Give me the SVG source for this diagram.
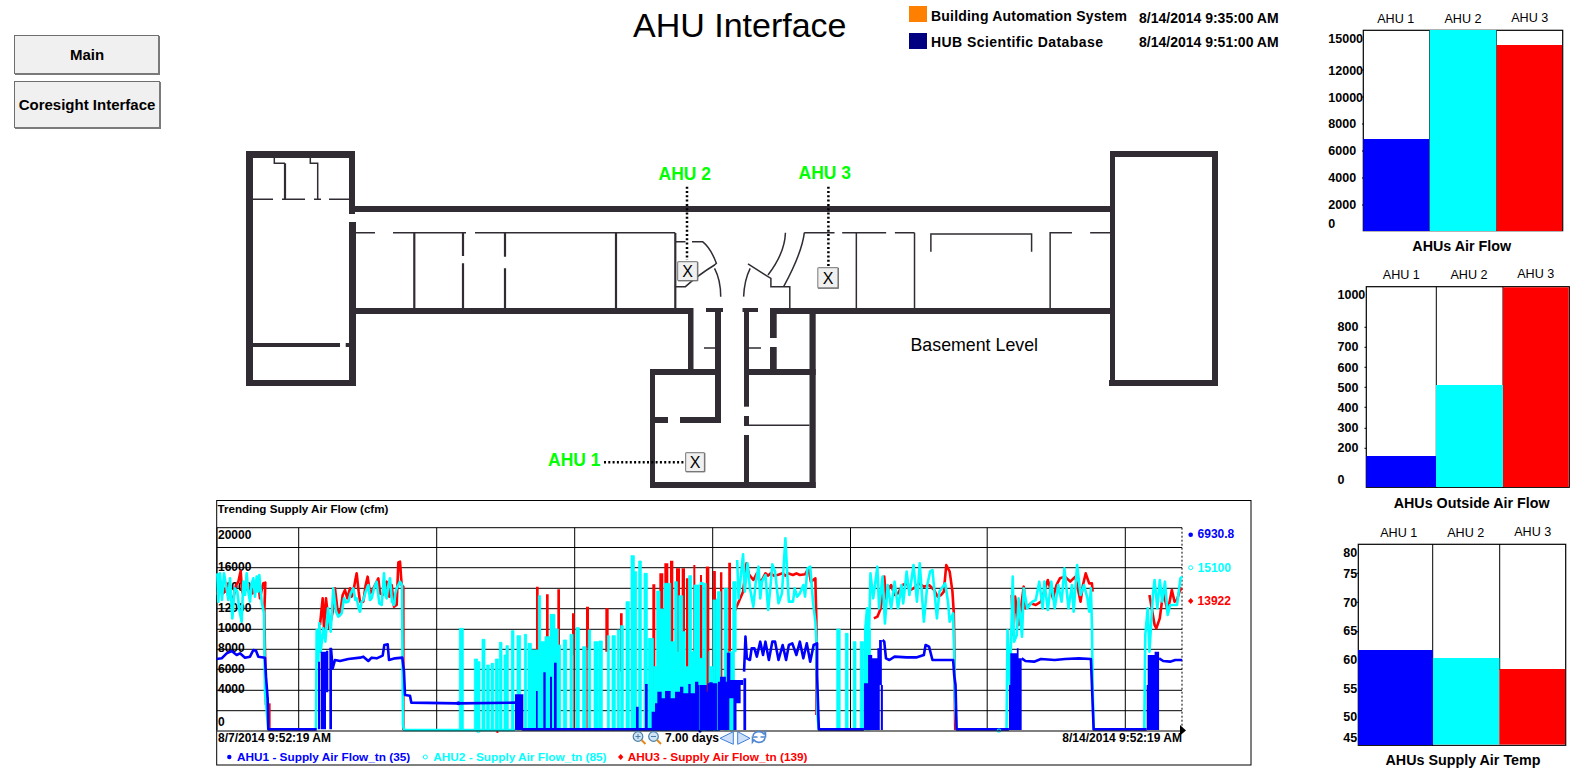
<svg xmlns="http://www.w3.org/2000/svg" width="1594" height="784" viewBox="0 0 1594 784">
<style>
text{font-family:"Liberation Sans",Arial,sans-serif;fill:#000}
.b{font-weight:bold}
.m{text-anchor:middle}
.e{text-anchor:end}
.w{fill:#312c33}
.t{fill:none;stroke:#312c33;stroke-width:1.5;vector-effect:non-scaling-stroke}
.t2{fill:none;stroke:#312c33;stroke-width:2.2;vector-effect:non-scaling-stroke}
.dot{fill:none;stroke:#000;stroke-width:2.500;stroke-dasharray:2 2.300}
.lab{font-size:17.500px;font-weight:bold;fill:#0f0}
.btn{fill:#f0f0f0;stroke:#6e6e6e;stroke-width:1}
.sh{fill:none;stroke:#7a7a7a;stroke-width:2}
.tr{fill:none;stroke-width:2.600;stroke-linejoin:round;vector-effect:non-scaling-stroke}
.gr{stroke:#000;stroke-width:1;fill:none}
.tk{font-size:12px;font-weight:bold}
.ba{font-size:12.600px}
.ax{font-size:12.500px;font-weight:bold}
.ti{font-size:14.300px;font-weight:bold;text-anchor:middle}
.fr{fill:#fff;stroke:#000;stroke-width:1.200}
.x{fill:#f0f0f0;stroke:#8c8c8c;stroke-width:1.200}
.xs{fill:none;stroke:#777;stroke-width:1.400}
.r{fill:#f00}.c{fill:#0ff;stroke:#0ff;stroke-width:.8;vector-effect:non-scaling-stroke}.bl{fill:#00f}
</style>
<rect width="1594" height="784" fill="#fff"/>

<g id="title"><text x="633" y="36.500" font-size="34">AHU Interface</text></g>
<g id="legend-bas">
<rect x="909" y="6" width="18" height="16" fill="#ff8000"/>
<text class="b" x="931" y="21" font-size="14" textLength="196">Building Automation System</text>
<text class="b" x="1139" y="22.500" font-size="14">8/14/2014 9:35:00 AM</text>
</g>
<g id="legend-hub">
<rect x="909" y="33" width="18" height="16" fill="#000080"/>
<text class="b" x="931" y="47" font-size="14" textLength="172">HUB Scientific Database</text>
<text class="b" x="1139" y="46.500" font-size="14">8/14/2014 9:51:00 AM</text>
</g>
<g id="btn-main">
<rect class="btn" x="14.500" y="35.500" width="144" height="38"/>
<path class="sh" d="M159 36V74H15"/>
<text class="b m" x="87" y="60" font-size="15">Main</text>
</g>
<g id="btn-coresight">
<rect class="btn" x="14.500" y="81.500" width="145" height="46"/>
<path class="sh" d="M160 82V128H15"/>
<text class="b m" x="87" y="110" font-size="15">Coresight Interface</text>
</g>

<g id="floorplan">
<g id="walls" class="w">
<rect x="246" y="151" width="7" height="235"/>
<rect x="246" y="151" width="109" height="7"/>
<rect x="349" y="151" width="6" height="63"/>
<rect x="349" y="222" width="7" height="164"/>
<rect x="246" y="380" width="110" height="6"/>
<rect x="253" y="343" width="87" height="4"/>
<rect x="345.700" y="343" width="4" height="4"/>
<rect x="355" y="206" width="755" height="6"/>
<rect x="355" y="308" width="338.500" height="6"/>
<rect x="706" y="308" width="17" height="4"/>
<rect x="742.500" y="308" width="15.500" height="4"/>
<rect x="770" y="308" width="340" height="6"/>
<rect x="688" y="314" width="5.500" height="56"/>
<rect x="715" y="308" width="6" height="115"/>
<rect x="744" y="308" width="5" height="98.700"/>
<rect x="744" y="416" width="5" height="10"/>
<rect x="744" y="435" width="5" height="47"/>
<rect x="770" y="314" width="6.700" height="24"/>
<rect x="770" y="347" width="6.700" height="23"/>
<rect x="809.500" y="314" width="6.200" height="174"/>
<rect x="650" y="369" width="71" height="6"/>
<rect x="744" y="369" width="71.700" height="6"/>
<rect x="650" y="369" width="5" height="119"/>
<rect x="650" y="482" width="165.700" height="6"/>
<rect x="655" y="417" width="13" height="6"/>
<rect x="680" y="417" width="41" height="6"/>
<rect x="1110" y="151" width="5" height="235"/>
<rect x="1110" y="151" width="108" height="6"/>
<rect x="1212" y="151" width="6" height="235"/>
<rect x="1109" y="380" width="109" height="6"/>
</g>
<path class="t" d="M253 199.300H273M282 199.300H305M314 199.300H321M329 199.300H349M355 232.700H375M393 232.700H466M475 232.700H675.300M704 348H715M749 348H761M749 425.300H809.500"/>
<path class="t" d="M274.300 158V163.300H285M310.300 158V163.300H317.700V199.300"/>
<path class="t2" d="M285 163.300V199.300"/>
<path class="t2" d="M414.300 233V308M463 233V256M463 263.300V308M505 233V256.700M505 268.300V308M616 233V308M675.300 233V308"/>
<g transform="translate(640 140) scale(.3636 .3333)">
<path class="t" d="M97 305H125M143 305H172Q195 325 210 370L205 375Q160 405 125 440H97M205 385Q222 420 222 470M297 372L352 410M303 385Q287 420 285 470M400 278Q398 340 352 405M452 278Q445 340 395 440H360V415L352 410M395 440H412V505M452 278H535M556 278H677M701 278H755M595 278V505M755 278V505M800 335V282H1077V335M1128 505V278H1188M1238 278H1295"/>
</g>
</g>

<g id="connectors">
<path class="dot" d="M687 186.700V260"/>
<path class="dot" d="M828.400 186.700V267"/>
<path class="dot" d="M604 462.300H685"/>
</g>
<g id="ahu1-marker">
<text class="lab" x="548" y="465.700">AHU 1</text>
<rect class="x" x="685.600" y="452.600" width="19" height="19" rx="1"/>
<path class="xs" d="M704.600 453V471.600H686"/>
<text class="m" x="695" y="468" font-size="16">X</text>
</g>
<g id="ahu2-marker">
<text class="lab" x="658.500" y="180">AHU 2</text>
<rect class="x" x="677.600" y="261.600" width="20" height="19" rx="1"/>
<path class="xs" d="M697.600 262V280.600H678"/>
<text class="m" x="687.500" y="277" font-size="16">X</text>
</g>
<g id="ahu3-marker">
<text class="lab" x="798.500" y="178.700">AHU 3</text>
<rect class="x" x="817.800" y="267.600" width="20.500" height="20.500" rx="1"/>
<path class="xs" d="M838.300 268V288.100H818"/>
<text class="m" x="828" y="284" font-size="16">X</text>
</g>
<g id="basement-label"><text x="910.500" y="350.700" font-size="17.800">Basement Level</text></g>

<g id="trend-chart">
<rect x="216.700" y="500.500" width="1034.300" height="264.500" fill="#fff" stroke="#000"/>
<text class="b" x="217.500" y="512.700" font-size="11.600">Trending Supply Air Flow (cfm)</text>
<path class="gr" d="M217 527.700H1182M217 547.500H1182M217 567.700H1182M217 588.300H1182M217 608.700H1182M217 629.300H1182M217 649.300H1182M217 669.300H1182M217 690.300H1182M217 710.700H1182M217 527.700V730.300M298.700 527.700V730.300M436.700 527.700V730.300M574.700 527.700V730.300M712.700 527.700V730.300M850.500 527.700V730.300M987.200 527.700V730.300M1125.300 527.700V730.300"/>
<path d="M1182 527.700V730.300" stroke="#000" stroke-dasharray="2 2" fill="none"/>
<g class="tk">
<text x="218" y="538.600">20000</text><text x="218" y="570.600">16000</text><text x="218" y="590.600">14000</text><text x="218" y="612.200">12000</text><text x="218" y="632.200">10000</text><text x="218" y="652.200">8000</text><text x="218" y="672.500">6000</text><text x="218" y="692.500">4000</text><text x="218" y="726">0</text>
</g>
<g id="trace-left" transform="translate(200 485) scale(.33333)">
<path class="r" d="M1008 500V305H1016V500ZM1038 735V328H1046V735ZM1072 480V313H1080V480ZM1116 510V385H1124V510H1123V735H1120V510ZM1158 490V365H1167V490H1163V735H1159V490ZM1216 500V370H1226V500ZM1260 560V385H1268V560ZM1357 735V298H1366V735ZM1378 735V265H1390V735ZM1393 735V235H1405V735ZM1410 735V227H1420V735ZM1428 735V250H1440V735ZM1445 735V250H1455V735ZM1458 735V280H1466V735ZM1480 735V240H1486V735ZM1500 735V270H1506V735ZM1518 735V245H1528V735ZM1538 735V310H1548V735Z"/>
<polyline class="tr" stroke="#f00" points="52,330 58,295 62,290 68,325 75,320 80,295 85,300 92,335 100,340 108,300 115,290 122,258 126,315 130,330 138,305 150,300 158,325 168,295 175,300 180,340 186,310 190,295 196,293 193,380 197,620 198,660"/>
<polyline class="tr" stroke="#f00" points="208,655 208,735"/>
<polyline class="tr" stroke="#f00" points="360,420 368,340 372,430 378,340 388,430 398,380 405,310 412,370 420,390 428,330 435,315 442,340 450,310 455,335 460,320 466,285 470,265 476,320 480,350 490,350 497,300 503,275 510,325 515,320 525,300 535,280 540,325 548,330 555,295 560,290 568,335 575,300 582,365 590,360 595,232 600,230 605,300 610,305 610,735"/>
<polyline class="tr" stroke="#0ff" points="52,265 55,350 60,265 66,345 72,265 78,300 85,345 90,280 97,400 104,310 112,320 118,375 125,410 130,290 135,330 140,265 145,320 150,350 155,295 160,280 165,335 170,275 174,320 178,270 185,350 192,385 195,620 205,735"/>
<polyline class="tr" stroke="#0ff" points="348,735 350,435 355,530 358,415 362,500 370,430 376,470 384,370 392,440 400,310 408,380 415,395 425,385 432,340 438,352 445,350 452,325 460,310 466,345 470,340 476,370 480,380 485,350 490,345 497,320 505,300 510,345 515,340 522,310 530,290 538,355 545,360 552,265 556,330 560,340 565,300 570,280 576,350 582,360 586,325 590,310 600,290 606,300 609,720 612,735 945,735"/>
<path class="c" d="M778 735V430H790V735ZM823 735V522H833V530H840V735ZM846 735V463H855V735ZM860 735V540H868V735ZM873 735V535H881V735ZM886 735V522H895V735ZM898 735V472H906V735ZM912 735V510H918V482H925V735ZM934 735V437H942V735ZM951 735V452H962V735ZM973 735V448H980V735ZM984 735V475H994V495H1015V332H1022V470H1035V455H1050V388H1065V432H1075V480H1082V735ZM1090 735V465H1100V735ZM1110 735V448H1119V510H1118V735ZM1128 735V428H1138V735ZM1148 735V485H1158V735ZM1165 735V435H1172V735ZM1182 735V470H1195V735ZM1197 735V468H1207V735ZM1222 735V452H1228V735ZM1236 735V452H1246V735ZM1252 735V435H1258V735ZM1262 735V422H1270V735ZM1278 735V350H1288V735ZM1293 735V212H1303V260H1310V735ZM1316 735V228H1324V735ZM1332 735V265H1342V735ZM1345 735V460H1360V735ZM1370 735V318H1380V372H1392V295H1412V470H1424V290H1432V500H1436V332H1448V440H1456V600H1466V272H1475V500H1482V300H1500V292H1510V560H1520V500H1528V600H1540V342H1556V735Z"/>
<path class="c" d="M1360 735V545H1560V735Z"/>
<path class="bl" d="M354 733V530H360V733ZM362 733V500H378V733ZM378 622V497H385V622ZM388 733V488H396V733ZM945 735V628H970V735ZM1008 735V618H1013V735ZM1030 735V562H1037V735ZM1050 735V575H1056V735ZM1062 735V533H1070V735ZM1308 735V665H1316V735ZM1335 735V597H1343V735Z"/>
<path class="bl" d="M1355 735V680H1365V655H1372V620H1385V640H1395V618H1412V640H1425V620H1440V605H1450V625H1465V597H1472V625H1485V590H1495V600H1505V670H1520V620H1528V592H1545V600H1560V735Z"/>
<polyline class="tr" stroke="#00f" points="50,522 65,520 80,505 95,498 110,510 120,505 135,518 150,515 160,495 168,497 175,515 195,518 198,575 203,640 205,733 350,733"/>
<polyline class="tr" stroke="#00f" points="393,490 398,550 405,525 420,528 445,522 480,518 490,515 505,528 515,518 530,520 548,512 553,480 563,478 567,525 585,520 607,518 612,560 615,630 630,632 634,653 775,655 945,653"/>
<polyline class="tr" stroke="#00f" points="965,733 1560,733"/>
<circle cx="775" cy="655" r="6" fill="#00f"/>
<circle cx="835" cy="738" r="5" fill="none" stroke="#0ff" stroke-width="3"/>
<circle cx="1500" cy="738" r="5" fill="#00f"/>
<path class="r" d="M892 738l5 4-5 2-5-2z"/>
</g>
<g id="trace-right" transform="translate(700 485) scale(.34440 .33333)">
<path class="r" d="M0 735V300H6V735ZM17 735V245H25V735ZM38 735V258H46V735ZM58 735V262H65V735ZM82 735V233H90V735Z"/>
<polyline class="tr" stroke="#f00" points="100,380 125,320 135,235 142,268 155,285 165,265 172,285 180,285 190,265 198,272 205,265 215,272 225,270 240,265 248,272 255,265 270,270 280,265 290,270 305,268 315,250 322,290 335,280 336,330 338,410 338,690"/>
<polyline class="tr" stroke="#f00" points="505,400 515,395 525,370 535,275 540,340 548,310 555,300 565,330 575,325 588,300 600,295 610,315 620,310 635,295 650,305 665,300 680,315 690,335 700,330 708,320 715,240 725,260 733,320 737,385 738,450 741,735"/>
<polyline class="tr" stroke="#f00" points="905,330 910,450 915,335 925,420 940,305 945,370 960,355 975,360 990,350 1010,285 1025,340 1035,300 1045,280 1060,275 1075,290 1090,275 1105,350 1112,300 1120,265 1130,295 1138,295 1140,320"/>
<polyline class="tr" stroke="#f00" points="1305,330 1320,420 1325,430 1335,400 1345,320 1358,380 1370,315 1378,350 1385,345 1395,310 1400,315"/>
<path class="c" d="M0 735V520H12V295H18V735ZM38 735V345H46V735ZM50 735V320H60V735ZM70 735V310H80V735ZM85 735V500H95V290H105V500H100V735ZM397 735V432H407V735ZM422 735V445H430V735ZM445 735V470H453V735ZM465 735V470H475V735ZM480 735V430H495V735Z"/>
<polyline class="tr" stroke="#0ff" points="108,225 112,340 125,208 130,320 138,235 145,310 155,365 162,290 170,245 175,340 180,290 190,270 198,375 205,300 210,238 218,260 228,355 238,325 248,160 252,240 258,350 270,350 275,310 282,335 290,325 300,300 305,335 312,250 320,245 328,350 335,410 338,470 340,680 345,735"/>
<polyline class="tr" stroke="#0ff" points="480,735 480,430 485,370 490,480 495,265 503,340 515,245 520,370 530,275 537,415 545,300 555,370 565,290 575,370 585,300 590,355 600,260 608,330 620,240 630,350 638,235 650,410 660,300 668,260 675,255 688,400 695,320 712,295 720,350 725,410 735,385 738,500 740,635 745,735"/>
<polyline class="tr" stroke="#0ff" points="890,735 893,435 900,600 908,275 912,470 920,450 925,340 935,455 940,310 950,370 965,350 975,345 985,290 995,370 1000,290 1010,375 1020,290 1030,370 1040,300 1050,350 1058,250 1070,370 1080,300 1085,380 1095,240 1105,330 1115,300 1125,340 1130,380 1135,310 1138,420 1140,600 1143,735"/>
<polyline class="tr" stroke="#0ff" points="1290,735 1293,450 1300,370 1305,500 1315,330 1320,285 1328,370 1335,285 1342,350 1350,290 1358,390 1365,360 1375,360 1385,360 1395,280 1400,275"/>
<path class="bl" d="M0 735V600H20V620H22V595H50V735ZM52 735V590H58V575H75V590H78V503H88V585H125V600H118V655H106V735H97V640H85V735ZM126 735V580H134V735Z"/>
<path class="bl" d="M476 735V595H488V510H500V520H515V490H520V465H528V600H522V735ZM525 735V600H531V735Z"/>
<path class="bl" d="M897 735V600H901V505H920V490H925V520H934V735Z"/>
<path class="bl" d="M1297 735V600H1300V510H1320V500H1333V735Z"/>
<polyline class="tr" stroke="#00f" points="128,560 132,455 136,520 145,525 150,490 158,490 165,515 175,470 183,510 190,470 200,525 210,470 218,470 228,525 240,480 250,525 258,480 268,475 280,510 290,470 300,520 310,475 320,530 330,480 340,475 340,570 345,733 476,733"/>
<polyline class="tr" stroke="#00f" points="530,465 535,470 540,520 550,525 565,515 600,517 630,517 650,510 655,480 665,485 675,525 700,525 735,525 738,570 742,600 745,733 897,733"/>
<polyline class="tr" stroke="#00f" points="934,520 945,528 970,530 990,522 1030,525 1060,522 1100,520 1135,522 1138,600 1143,733 1297,733"/>
<polyline class="tr" stroke="#00f" points="1333,520 1345,528 1365,530 1380,525 1400,525"/>
<circle cx="868" cy="737" r="5" fill="none" stroke="#0ff" stroke-width="3"/>
</g>
<path d="M217 731H1182" stroke="#000" fill="none"/>
<path d="M1180 725l6 5.500-6 5z" fill="#000"/>
<text class="tk" x="218" y="742.300">8/7/2014 9:52:19 AM</text>
<text class="tk e" x="1182" y="742.300">8/14/2014 9:52:19 AM</text>
<text class="tk" x="665" y="742.300">7.00 days</text>
<g id="zoom-in"><circle cx="638" cy="736.500" r="4.800" fill="#cfe3f5" stroke="#4a7fa8" stroke-width="1.200"/><path d="M635.500 736.500h5M638 734v5" stroke="#4a7fa8"/><path d="M641.500 740l4 4" stroke="#e08a1e" stroke-width="2"/></g>
<g id="zoom-out"><circle cx="653.500" cy="736.500" r="4.800" fill="#cfe3f5" stroke="#4a7fa8" stroke-width="1.200"/><path d="M651 736.500h5" stroke="#4a7fa8"/><path d="M657 740l4 4" stroke="#e08a1e" stroke-width="2"/></g>
<path d="M720 738.300L733.300 731.700V744.300Z" fill="#cfe0fa" stroke="#3f7fd8"/>
<path d="M737.700 731.700V744.300L750 738.300Z" fill="#cfe0fa" stroke="#3f7fd8"/>
<g id="refresh" fill="none" stroke="#4f88d0" stroke-width="1.600"><path d="M753 736a6 5 0 0 1 11-2l1.500-2v5h-5"/><path d="M765 738a6 5 0 0 1-11 2l-1.500 2v-5h5"/></g>
<g id="chart-legend">
<circle cx="229.300" cy="757" r="2.200" fill="#00f"/>
<text class="b" x="237" y="760.700" font-size="11.800" style="fill:#00f">AHU1 - Supply Air Flow_tn  (35)</text>
<circle cx="425.300" cy="757" r="2" fill="none" stroke="#0ff"/>
<text class="b" x="433.300" y="760.700" font-size="11.800" style="fill:#0ff">AHU2 - Supply Air Flow_tn  (85)</text>
<path d="M620.700 754l2.700 3-2.700 3-2.700-3z" fill="#f00"/>
<text class="b" x="627.700" y="760.700" font-size="11.800" style="fill:#f00">AHU3 - Supply Air Flow_tn (139)</text>
</g>
<g id="chart-values">
<circle cx="1190.700" cy="534.700" r="2.300" fill="#00f"/>
<text class="tk" x="1197.600" y="538.300" style="fill:#00f">6930.8</text>
<circle cx="1190.700" cy="567.700" r="2" fill="none" stroke="#0ff"/>
<text class="tk" x="1197.600" y="571.700" style="fill:#0ff">15100</text>
<path d="M1190.700 598l2.700 3-2.700 3-2.700-3z" fill="#f00"/>
<text class="tk" x="1197.600" y="605" style="fill:#f00">13922</text>
</g>
</g>

<g id="panel-air-flow">
<rect class="fr" x="1363.300" y="30.300" width="199.400" height="200.400"/>
<path class="gr" d="M1429.700 30V231M1496.300 30V231M1362 70H1364M1362 97H1364M1362 124H1364M1362 151H1364M1362 178H1364M1362 205H1364"/>
<rect class="bl" x="1363.300" y="139" width="66" height="92"/>
<rect x="1429.700" y="30" width="66.600" height="201" fill="#0ff"/>
<rect class="r" x="1496.600" y="45" width="65.500" height="186"/>
<text class="ba m" x="1395.700" y="22.700">AHU 1</text><text class="ba m" x="1463" y="22.700">AHU 2</text><text class="ba m" x="1529.700" y="21.700">AHU 3</text>
<text class="ax" x="1328.300" y="43.300">15000</text><text class="ax" x="1328.300" y="75">12000</text><text class="ax" x="1328.300" y="101.700">10000</text><text class="ax" x="1328.300" y="128.300">8000</text><text class="ax" x="1328.300" y="155">6000</text><text class="ax" x="1328.300" y="181.700">4000</text><text class="ax" x="1328.300" y="209">2000</text><text class="ax" x="1328.300" y="227.700">0</text>
<text class="ti" x="1461.700" y="250.700">AHUs Air Flow</text>
</g>
<g id="panel-outside-air">
<rect class="fr" x="1366.300" y="286.700" width="203" height="200.600"/>
<path class="gr" d="M1436.300 287V488M1503 287V488M1364.500 327.300H1366.500M1364.500 347.300H1366.500M1364.500 367.300H1366.500M1364.500 387.300H1366.500M1364.500 407.300H1366.500M1364.500 428.300H1366.500M1364.500 448.300H1366.500"/>
<rect class="bl" x="1366.300" y="456" width="69.700" height="31"/>
<rect x="1436" y="385" width="67" height="102" fill="#0ff"/>
<rect class="r" x="1503" y="287.300" width="65.700" height="199.700"/>
<text class="ba m" x="1401.300" y="279">AHU 1</text><text class="ba m" x="1469" y="279">AHU 2</text><text class="ba m" x="1535.700" y="278">AHU 3</text>
<text class="ax" x="1337.500" y="299">1000</text><text class="ax" x="1337.500" y="331">800</text><text class="ax" x="1337.500" y="351">700</text><text class="ax" x="1337.500" y="371.700">600</text><text class="ax" x="1337.500" y="391.700">500</text><text class="ax" x="1337.500" y="411.700">400</text><text class="ax" x="1337.500" y="431.700">300</text><text class="ax" x="1337.500" y="451.700">200</text><text class="ax" x="1337.500" y="484">0</text>
<text class="ti" x="1471.700" y="508.300">AHUs Outside Air Flow</text>
</g>
<g id="panel-supply-temp">
<rect class="fr" x="1358.300" y="544.300" width="207.400" height="201"/>
<path class="gr" d="M1432.700 544V746M1499.700 544V670M1356.500 573.300H1358.500M1356.500 602.300H1358.500M1356.500 631.700H1358.500"/>
<rect class="bl" x="1358.300" y="650" width="74.400" height="95"/>
<rect x="1433" y="658" width="66.400" height="86.500" fill="#0ff"/>
<rect class="r" x="1499.300" y="669" width="65.800" height="75.500"/>
<text class="ba m" x="1398.700" y="536.700">AHU 1</text><text class="ba m" x="1465.700" y="536.700">AHU 2</text><text class="ba m" x="1532.700" y="535.700">AHU 3</text>
<text class="ax" x="1343.300" y="556.700">80</text><text class="ax" x="1343.300" y="578.300">75</text><text class="ax" x="1343.300" y="606.700">70</text><text class="ax" x="1343.300" y="635.300">65</text><text class="ax" x="1343.300" y="664">60</text><text class="ax" x="1343.300" y="692.700">55</text><text class="ax" x="1343.300" y="720.700">50</text><text class="ax" x="1343.300" y="742">45</text>
<text class="ti" x="1463" y="764.700">AHUs Supply Air Temp</text>
</g>
</svg>
